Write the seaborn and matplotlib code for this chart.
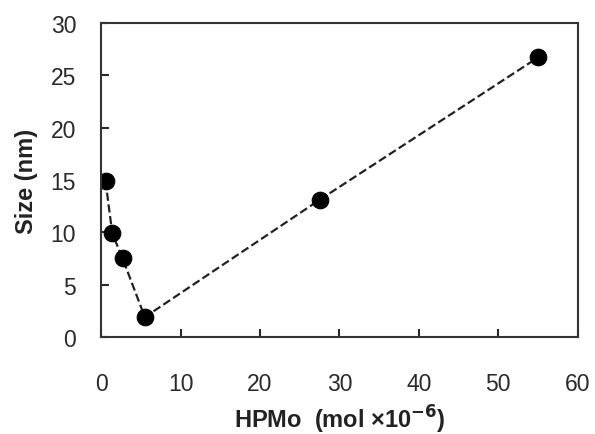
import numpy as np
import pandas as pd
import matplotlib
matplotlib.use('Agg')
import matplotlib.pyplot as plt
import seaborn as sns

# datos
hpmo = [0.55, 1.4, 2.7, 5.5, 27.5, 55.0]
size_nm = [14.9, 9.9, 7.5, 1.9, 13.1, 26.7]
x_ticks = [0, 10, 20, 30, 40, 50, 60]
y_ticks = [0, 5, 10, 15, 20, 25, 30]

df = pd.DataFrame({'HPMo': hpmo, 'Size': size_nm})

sns.set_style('white')
plt.rcParams['font.family'] = ['Liberation Sans', 'DejaVu Sans']

fig = plt.figure(figsize=(5.95, 4.35), dpi=100)
ax = fig.add_axes([0.170, 0.223, 0.801, 0.722])

sns.lineplot(data=df, x='HPMo', y='Size', ax=ax, color='#222222',
             linestyle='--', linewidth=1.6, marker='o', markersize=12,
             markeredgecolor='black', markerfacecolor='black', sort=False)

ax.set_xlim(0, 60)
ax.set_ylim(0, 30)
ax.set_xticks(x_ticks)
ax.set_yticks(y_ticks)
ax.tick_params(axis='x', direction='in', length=6, width=1.5, pad=25,
               labelsize=16.5, colors='#2a2a2a', top=False, bottom=True)
ax.tick_params(axis='y', direction='in', length=6, width=1.5, pad=18,
               labelsize=16.5, colors='#2a2a2a', left=True, right=False)
for s in ax.spines.values():
    s.set_linewidth(1.5)
    s.set_color('#333333')

ax.set_xlabel(r'HPMo  (mol ×10$^{\mathbf{-6}}$)', fontsize=17,
              fontweight='bold', color='#222222', labelpad=6)
ax.set_ylabel('Size (nm)', fontsize=17, fontweight='bold',
              color='#222222', labelpad=9)

fig.savefig('out.png', dpi=100)
